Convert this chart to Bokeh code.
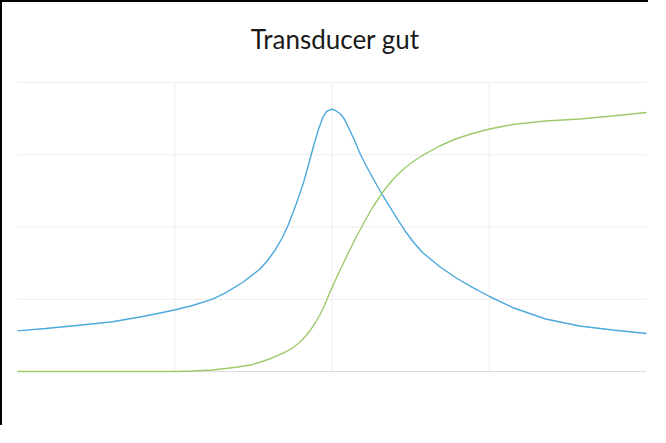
from bokeh.plotting import figure
from bokeh.embed import file_html
from bokeh.resources import INLINE
from bokeh.models import Range1d, Label

# Frequency (kHz) and amplitude (arbitrary units)
freq_mag = [38.000, 38.178, 38.394, 38.604, 38.814, 38.998, 39.113, 39.240, 39.323,
            39.431, 39.539, 39.590, 39.641, 39.685, 39.723, 39.755, 39.787, 39.819,
            39.851, 39.882, 39.914, 39.940, 39.965, 39.999, 40.022, 40.054, 40.080,
            40.111, 40.149, 40.181, 40.213, 40.258, 40.308, 40.366, 40.417, 40.467,
            40.525, 40.576, 40.684, 40.785, 40.893, 41.002, 41.148, 41.358, 41.574,
            41.784, 42.000]
magnitude = [0.563, 0.595, 0.641, 0.688, 0.768, 0.851, 0.913, 1.001, 1.087,
             1.232, 1.412, 1.536, 1.689, 1.855, 2.035, 2.215, 2.408, 2.616,
             2.865, 3.114, 3.349, 3.509, 3.599, 3.633, 3.612, 3.564, 3.488,
             3.349, 3.170, 3.003, 2.865, 2.685, 2.491, 2.284, 2.104, 1.938,
             1.772, 1.647, 1.453, 1.301, 1.163, 1.038, 0.886, 0.727, 0.630,
             0.574, 0.526]

freq_phase = [38.000, 38.477, 38.992, 39.113, 39.240, 39.323, 39.399, 39.482, 39.545,
              39.603, 39.653, 39.704, 39.749, 39.793, 39.831, 39.863, 39.895, 39.921,
              39.952, 39.978, 40.035, 40.099, 40.149, 40.207, 40.258, 40.321, 40.366,
              40.417, 40.467, 40.525, 40.576, 40.684, 40.785, 40.893, 41.002, 41.148,
              41.358, 41.574, 41.784, 42.000]
phase = [0.000, 0.000, 0.000, 0.007, 0.021, 0.042, 0.062, 0.090, 0.131,
         0.173, 0.221, 0.270, 0.325, 0.401, 0.484, 0.574, 0.678, 0.775,
         0.913, 1.052, 1.329, 1.619, 1.841, 2.076, 2.270, 2.478, 2.602,
         2.727, 2.824, 2.920, 2.990, 3.121, 3.218, 3.294, 3.356, 3.419,
         3.467, 3.495, 3.536, 3.585]

x_min, x_max = 38.0, 42.0
y_min, y_max = 0.0, 4.0
x_grid = [39.0, 40.0, 41.0]
y_grid = [1.0, 2.0, 3.0, 4.0]
title_text = "Transducer gut"

# whole canvas is the frame; the plotting area 38..42 x 0..4 sits inside it
p = figure(width=648, height=425, output_backend="svg", toolbar_location=None,
           x_range=Range1d(37.9046, 42.0254), y_range=Range1d(-0.7751, 5.1073),
           min_border=0)
p.styles = {"border-left": "2px solid #000000", "border-top": "2px solid #000000"}
p.outline_line_color = None
p.xaxis.visible = False
p.yaxis.visible = False
p.grid.visible = False

# gridlines
p.segment(x0=[x_min] * len(y_grid), y0=y_grid, x1=[x_max] * len(y_grid), y1=y_grid,
          line_color="#ededed", line_width=1)
p.segment(x0=x_grid, y0=[y_min] * len(x_grid), x1=x_grid, y1=[y_max] * len(x_grid),
          line_color="#ededed", line_width=1)
p.segment(x0=[x_min], y0=[y_min], x1=[x_max], y1=[y_min],
          line_color="#dcdcdc", line_width=1)

p.line(freq_mag, magnitude, line_color="#4BA9DB", line_width=1.4)
p.line(freq_phase, phase, line_color="#9DCB6A", line_width=1.4)

p.add_layout(Label(x=40.02, y=4.599, text=title_text, text_align="center",
                   text_baseline="alphabetic", text_font="Lato",
                   text_font_size="26px", text_color="#1a1a1a"))

open("out.html", "w").write(file_html(p, INLINE))
